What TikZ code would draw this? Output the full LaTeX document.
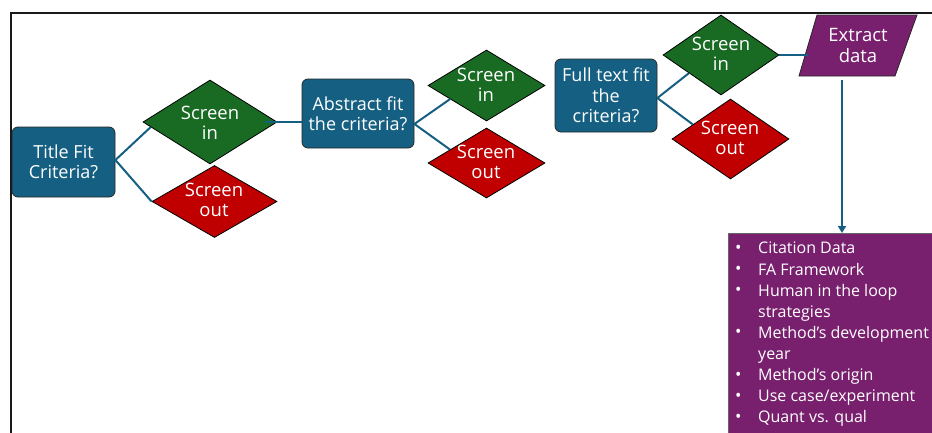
\documentclass[tikz,border=0pt]{standalone}
\usepackage{fontspec}
\setmainfont{Open Sans}
\usetikzlibrary{shapes.geometric,arrows.meta,calc}
\definecolor{cblue}{HTML}{156082}
\definecolor{cgreen}{HTML}{196B24}
\definecolor{cred}{HTML}{C00000}
\definecolor{cpurple}{HTML}{78206E}
\tikzset{
  qbox/.style={draw=black!85, line width=0.8pt, fill=cblue, rounded corners=6pt, inner sep=0pt, text=white, align=center, font=\fontsize{18}{20.5}\selectfont},
  dia/.style={diamond, draw=black, line width=0.8pt, inner sep=0pt},
  din/.style={dia, fill=cgreen},
  dout/.style={dia, fill=cred},
  lbl/.style={text=white, align=center, inner sep=0pt, font=\fontsize{18.5}{20.5}\selectfont},
  conn/.style={draw=cblue, line width=2pt},
  parashape/.style={draw=black!85, line width=0.8pt, fill=cpurple},
}
\newcommand{\bul}{\makebox[23pt][l]{\raisebox{0.5pt}{\fontsize{17}{17}\selectfont•}}}
\begin{document}
\begin{tikzpicture}[x=1pt,y=-1pt]
\useasboundingbox (0,0) rectangle (932,432);
% frame
\draw[line width=1.6pt, black!90] (11,460) -- (11,13) -- (960,13);

% nodes
\node[qbox, minimum width=103, minimum height=70] (title) at (63.5,162) {Title Fit\\Criteria?};
\node[din, minimum width=134, minimum height=84] (si1) at (210,122) {};
\node[lbl] at (210,123) {Screen\\in};
\node[dout, minimum width=125, minimum height=72] (so1) at (214.5,201.5) {};
\node[lbl] at (214,200) {Screen\\out};

\node[qbox, minimum width=112, minimum height=69] (abs) at (358,113.5) {Abstract fit\\the criteria?};
\node[din, minimum width=117, minimum height=71] (si2) at (486.5,85.5) {};
\node[lbl] at (486,85) {Screen\\in};
\node[dout, minimum width=117, minimum height=70] (so2) at (486.5,163) {};
\node[lbl] at (486,162) {Screen\\out};

\node[qbox, minimum width=102, minimum height=73] (ft) at (606,95.5) {Full text fit\\the\\criteria?};
\node[din, minimum width=116, minimum height=80] (si3) at (721,55) {};
\node[lbl] at (721,54) {Screen\\in};
\node[dout, minimum width=117, minimum height=80] (so3) at (730.5,139) {};
\node[lbl] at (730,138) {Screen\\out};

\draw[parashape] (817,15) -- (917,15) -- (895,76) -- (799,76) -- cycle;
\node[lbl, minimum width=100, minimum height=61] (ext) at (858,45.5) {Extract\\data};

\node[draw=black!60, line width=0.8pt, fill=cpurple, anchor=north west, minimum width=260, minimum height=230, inner sep=0pt] (list) at (728,233) {};
\node[anchor=north west, inner sep=0pt, text=white, align=left, font=\fontsize{16}{21.1}\selectfont] (items) at (735,242) {%
\bul Citation Data\\
\bul FA Framework\\
\bul Human in the loop\\
\hspace*{23pt}strategies\\
\bul Method’s development\\
\hspace*{23pt}year\\
\bul Method’s origin\\
\bul Use case/experiment\\
\bul Quant vs. qual};

% connectors
\draw[conn] ([yshift=2pt]title.east) -- ($(si1.west)!0.12!(si1.south)$);
\draw[conn] ([yshift=2pt]title.east) -- (so1.west);
\draw[conn] ([xshift=-12pt]si1.east) -- (si1.east -| abs.west);

\draw[conn] ([yshift=-10.5pt]abs.east) -- ($(si2.west)!0.38!(si2.south)$);
\draw[conn] ([yshift=-10.5pt]abs.east) -- ($(so2.west)!0.38!(so2.north)$);
\draw[conn] ($(si2.east)!0.35!(si2.south)$) -- ($(si2.east)!0.35!(si2.south)$ -| ft.west);

\draw[conn] ([yshift=-2.5pt]ft.east) -- ($(si3.west)!0.45!(si3.south)$);
\draw[conn] ([yshift=-2.5pt]ft.east) -- ($(so3.west)!0.36!(so3.north)$);
\draw[conn] (si3.east) -- (si3.east -| ext.west);

\coordinate (atop) at (842,80);
\draw[conn, -{Triangle[length=7pt,width=8pt]}] (atop) -- (atop |- list.north);
\end{tikzpicture}
\end{document}
